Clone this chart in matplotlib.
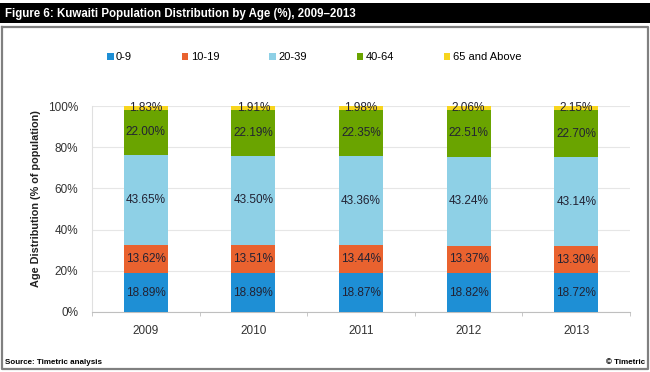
import matplotlib
matplotlib.use("Agg")
import matplotlib.pyplot as plt
from matplotlib.patches import Rectangle
from matplotlib.lines import Line2D
import numpy as np

plt.rcParams['font.family'] = ['Liberation Sans', 'DejaVu Sans']

years = ["2009", "2010", "2011", "2012", "2013"]
groups = ["0-9", "10-19", "20-39", "40-64", "65 and Above"]
age_0_9 = [18.89, 18.89, 18.87, 18.82, 18.72]
age_10_19 = [13.62, 13.51, 13.44, 13.37, 13.30]
age_20_39 = [43.65, 43.50, 43.36, 43.24, 43.14]
age_40_64 = [22.00, 22.19, 22.35, 22.51, 22.70]
age_65 = [1.83, 1.91, 1.98, 2.06, 2.15]
colors = ["#1E8FD5", "#E9622F", "#8ED0E6", "#6AA400", "#F7D51D"]

W, H = 650, 372
fig = plt.figure(figsize=(6.5, 3.72), dpi=100)

# title bar + frame
fig.patches.append(Rectangle((0, 1 - 23 / H), 1, 20 / H, transform=fig.transFigure,
                             facecolor="black", edgecolor="none"))
fig.text(5 / W, 1 - 13.5 / H, "Figure 6: Kuwaiti Population Distribution by Age (%), 2009\u20132013",
         color="white", fontsize=8.3, fontweight="bold", va="center", ha="left")
fig.add_artist(Line2D([2 / W, 648 / W, 648 / W, 2 / W, 2 / W],
                      [1 - 27 / H, 1 - 27 / H, 1 - 369 / H, 1 - 369 / H, 1 - 27 / H],
                      transform=fig.transFigure, color="#808080", lw=1.6))

ax = fig.add_axes([92 / W, 1 - 312 / H, 538 / W, 206 / H])
x = np.arange(len(years))
series = [age_0_9, age_10_19, age_20_39, age_40_64, age_65]
bottom = np.zeros(len(years))
handles = []
for vals, c, g in zip(series, colors, groups):
    b = ax.bar(x, vals, 0.41, bottom=bottom, color=c, label=g, zorder=3)
    handles.append(b)
    for xi, v, b0 in zip(x, vals, bottom):
        ax.text(xi, b0 + v / 2, f"{v:.2f}%", ha="center", va="center",
                fontsize=8.5, color="#222233", zorder=4)
    bottom += np.array(vals)

ax.set_xlim(-0.5, len(years) - 0.5)
ax.set_ylim(0, 100)
ax.set_yticks(range(0, 101, 20))
ax.set_yticklabels([f"{t}%" for t in range(0, 101, 20)], fontsize=8.5, color="#333333")
ax.set_xticks(x)
ax.set_xticklabels(years, fontsize=8.5, color="#333333")
ax.set_xticks(np.arange(-0.5, len(years), 1), minor=True)
ax.tick_params(axis="x", which="major", length=0, pad=9)
ax.tick_params(axis="x", which="minor", length=3, color="#BFBFBF")
ax.tick_params(axis="y", length=0, pad=10)
ax.grid(axis="y", color="#E6E6E6", lw=0.8, zorder=0)
for s in ["top", "right"]:
    ax.spines[s].set_visible(False)
ax.spines["left"].set_color("#E0E0E0")
ax.spines["bottom"].set_color("#BFBFBF")
ax.set_ylabel("Age Distribution (% of population)", fontsize=7.8, fontweight="bold",
              color="#222222")
ax.yaxis.set_label_coords(-0.094, 0.553)

fig.legend(handles=handles, labels=groups, loc="center", ncol=5,
           bbox_to_anchor=(314 / W, 1 - 57 / H), frameon=False, fontsize=8,
           handlelength=0.6, handleheight=0.6, handletextpad=0.2, columnspacing=4.5)

fig.text(5 / W, 1 - 362 / H, "Source: Timetric analysis", fontsize=5.8, fontweight="bold",
         va="center", ha="left")
fig.text(645 / W, 1 - 362 / H, "\u00a9 Timetric", fontsize=5.8, fontweight="bold",
         va="center", ha="right")

fig.savefig("out.png", dpi=100)
